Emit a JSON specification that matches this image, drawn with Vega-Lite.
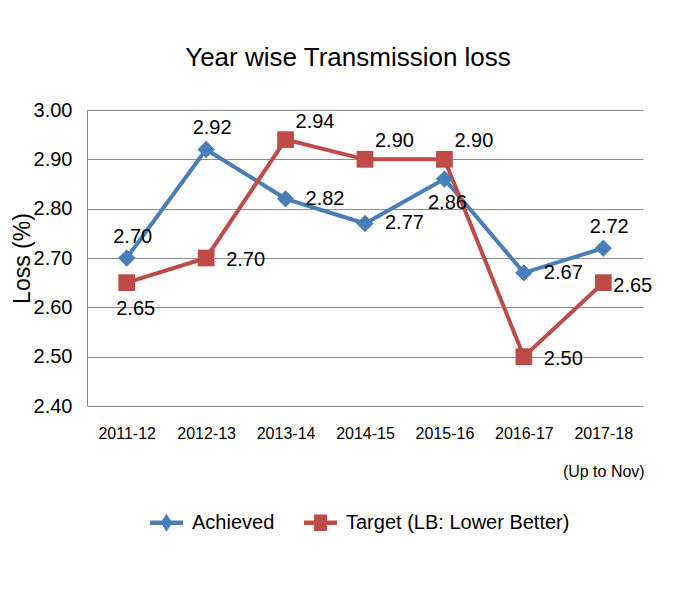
{
  "$schema": "https://vega.github.io/schema/vega-lite/v6.json",
  "autosize": {"type": "none"},
  "padding": {"left": 87, "top": 110, "right": 45, "bottom": 208},
  "width": 556,
  "height": 296,
  "background": "white",
  "config": {"view": {"stroke": null}, "font": "Liberation Sans"},
  "title": {"text": "Year wise Transmission loss", "font": "Liberation Sans", "fontSize": 26, "fontWeight": "normal", "color": "black", "frame": "group", "anchor": "middle", "dx": -17, "offset": 8, "baseline": "alphabetic"},
  "data": {"values": [
    {"year": "2011-12", "series": "Achieved", "value": 2.70},
    {"year": "2012-13", "series": "Achieved", "value": 2.92},
    {"year": "2013-14", "series": "Achieved", "value": 2.82},
    {"year": "2014-15", "series": "Achieved", "value": 2.77},
    {"year": "2015-16", "series": "Achieved", "value": 2.86},
    {"year": "2016-17", "series": "Achieved", "value": 2.67},
    {"year": "2017-18 (Up to Nov)", "series": "Achieved", "value": 2.72},
    {"year": "2011-12", "series": "Target (LB: Lower Better)", "value": 2.65},
    {"year": "2012-13", "series": "Target (LB: Lower Better)", "value": 2.70},
    {"year": "2013-14", "series": "Target (LB: Lower Better)", "value": 2.94},
    {"year": "2014-15", "series": "Target (LB: Lower Better)", "value": 2.90},
    {"year": "2015-16", "series": "Target (LB: Lower Better)", "value": 2.90},
    {"year": "2016-17", "series": "Target (LB: Lower Better)", "value": 2.50},
    {"year": "2017-18 (Up to Nov)", "series": "Target (LB: Lower Better)", "value": 2.65}
  ]},
  "encoding": {
    "x": {"field": "year", "type": "ordinal", "sort": null, "scale": {"type": "point", "padding": 0.5},
      "axis": {"title": null, "labelAngle": 0, "domain": false, "ticks": false, "grid": false, "labelPadding": 19,
        "labelFont": "Liberation Sans", "labelFontSize": 16, "labelLineHeight": 38, "labelColor": "black",
        "labelExpr": "datum.value == '2017-18 (Up to Nov)' ? ['2017-18', '(Up to Nov)'] : datum.value"}},
    "y": {"field": "value", "type": "quantitative", "scale": {"domain": [2.4, 3.0], "zero": false, "nice": false},
      "axis": {"values": [2.4, 2.5, 2.6, 2.7, 2.8, 2.9, 3.0], "format": ".2f", "grid": true, "gridColor": "#8C8C8C", "gridWidth": 1,
        "domain": true, "domainColor": "#8C8C8C", "ticks": false, "labelPadding": 15,
        "labelFont": "Liberation Sans", "labelFontSize": 20, "labelColor": "black",
        "title": "Loss (%)", "titleFont": "Liberation Sans", "titleFontSize": 23, "titleFontWeight": "normal", "titleColor": "black",
        "titleX": -65, "titleY": 148, "titleAngle": -90, "titleBaseline": "middle", "titleAlign": "center"}},
    "color": {"field": "series", "type": "nominal",
      "scale": {"domain": ["Achieved", "Target (LB: Lower Better)"], "range": ["#4A7EBB", "#BE4B48"]},
      "legend": {"orient": "none", "legendX": 63, "legendY": 396, "direction": "horizontal", "title": null,
        "labelFont": "Liberation Sans", "labelFontSize": 20, "labelColor": "black", "labelLimit": 400,
        "symbolSize": 1089, "labelOffset": 9, "columnPadding": 29, "symbolStrokeWidth": 0, "symbolOpacity": 1}}
  },
  "layer": [
    {"transform": [{"filter": "false"}],
     "mark": {"type": "point", "filled": true, "opacity": 1},
     "encoding": {"shape": {"field": "series", "type": "nominal",
       "scale": {"domain": ["Achieved", "Target (LB: Lower Better)"],
                 "range": ["M-1,-0.13 L1,-0.13 L1,0.13 L-1,0.13 Z M0,-0.55 L0.35,0 L0,0.55 L-0.35,0 Z",
                           "M-1,-0.13 L1,-0.13 L1,0.13 L-1,0.13 Z M-0.4,-0.5 L0.4,-0.5 L0.4,0.5 L-0.4,0.5 Z"]},
       "legend": null}}},
    {"mark": {"type": "line", "strokeWidth": 4}},
    {"transform": [{"filter": "datum.series === 'Achieved'"}],
     "mark": {"type": "point", "filled": true, "opacity": 1, "size": 300, "shape": "diamond"}},
    {"transform": [{"filter": "datum.series !== 'Achieved'"}],
     "mark": {"type": "point", "filled": true, "opacity": 1, "size": 280, "shape": "square"}},
    {"transform": [{"filter": "datum.series === 'Achieved' && indexof(['2011-12','2012-13','2017-18 (Up to Nov)'], datum.year) >= 0"}],
     "mark": {"type": "text", "align": "center", "baseline": "middle", "dx": 6, "dy": -21, "font": "Liberation Sans", "fontSize": 20},
     "encoding": {"text": {"field": "value", "type": "quantitative", "format": ".2f"}, "color": {"value": "black"}}},
    {"transform": [{"filter": "datum.series === 'Achieved' && indexof(['2013-14','2014-15','2016-17'], datum.year) >= 0"}],
     "mark": {"type": "text", "align": "left", "baseline": "middle", "dx": 20, "dy": 0, "font": "Liberation Sans", "fontSize": 20},
     "encoding": {"text": {"field": "value", "type": "quantitative", "format": ".2f"}, "color": {"value": "black"}}},
    {"transform": [{"filter": "datum.series === 'Achieved' && datum.year === '2015-16'"}],
     "mark": {"type": "text", "align": "center", "baseline": "middle", "dx": 3, "dy": 24, "font": "Liberation Sans", "fontSize": 20},
     "encoding": {"text": {"field": "value", "type": "quantitative", "format": ".2f"}, "color": {"value": "black"}}},
    {"transform": [{"filter": "datum.series !== 'Achieved' && datum.year === '2011-12'"}],
     "mark": {"type": "text", "align": "center", "baseline": "middle", "dx": 9, "dy": 26, "font": "Liberation Sans", "fontSize": 20},
     "encoding": {"text": {"field": "value", "type": "quantitative", "format": ".2f"}, "color": {"value": "black"}}},
    {"transform": [{"filter": "datum.series !== 'Achieved' && indexof(['2012-13','2016-17'], datum.year) >= 0"}],
     "mark": {"type": "text", "align": "left", "baseline": "middle", "dx": 20, "dy": 2, "font": "Liberation Sans", "fontSize": 20},
     "encoding": {"text": {"field": "value", "type": "quantitative", "format": ".2f"}, "color": {"value": "black"}}},
    {"transform": [{"filter": "datum.series !== 'Achieved' && indexof(['2013-14','2014-15','2015-16'], datum.year) >= 0"}],
     "mark": {"type": "text", "align": "left", "baseline": "middle", "dx": 10, "dy": -18, "font": "Liberation Sans", "fontSize": 20},
     "encoding": {"text": {"field": "value", "type": "quantitative", "format": ".2f"}, "color": {"value": "black"}}},
    {"transform": [{"filter": "datum.series !== 'Achieved' && datum.year === '2017-18 (Up to Nov)'"}],
     "mark": {"type": "text", "align": "left", "baseline": "middle", "dx": 10, "dy": 3, "font": "Liberation Sans", "fontSize": 20},
     "encoding": {"text": {"field": "value", "type": "quantitative", "format": ".2f"}, "color": {"value": "black"}}}
  ]
}
